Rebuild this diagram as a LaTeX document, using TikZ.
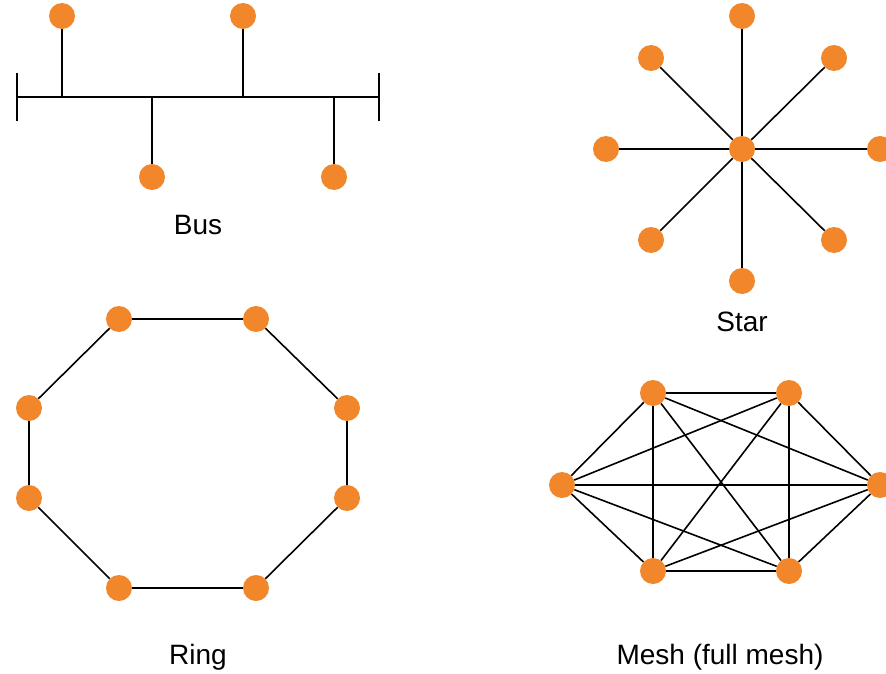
\documentclass[tikz,border=0pt]{standalone}
\usepackage{fontspec}
\setmainfont{Liberation Sans}
\definecolor{hostorange}{HTML}{F2862A}
\begin{document}
\begin{tikzpicture}[x=1pt,y=-1pt,
  host/.style={circle,fill=hostorange,draw=none,minimum size=26pt,inner sep=0pt},
  link/.style={line width=1.6pt,black},
  caption/.style={font=\fontsize{28}{33}\selectfont,inner sep=0pt}]
\useasboundingbox (0,0) rectangle (886,674);

% ---- Bus ----
\coordinate (capLt) at (17,73);
\coordinate (capLb) at (17,121);
\coordinate (capRt) at (379,73);
\coordinate (capRb) at (379,121);
\coordinate (busL) at (17,97);
\coordinate (busR) at (379,97);
\coordinate (j1) at (62,97);
\coordinate (j2) at (152,97);
\coordinate (j3) at (243,97);
\coordinate (j4) at (334,97);
\node[host] (b1) at (62,16) {};
\node[host] (b2) at (152,177) {};
\node[host] (b3) at (243,16) {};
\node[host] (b4) at (334,177) {};
\draw[link] (busL) -- (busR);
\draw[link] (capLt) -- (capLb);
\draw[link] (capRt) -- (capRb);
\draw[link] (j1) -- (b1);
\draw[link] (j2) -- (b2);
\draw[link] (j3) -- (b3);
\draw[link] (j4) -- (b4);
\node[caption] (buslabel) at (198,225) {Bus};

% ---- Star ----
\node[host] (hub) at (742,149) {};
\foreach \name/\px/\py in {s1/742/16, s2/834/58, s3/880/149, s4/834/240,
                           s5/742/281, s6/651/240, s7/606/149, s8/651/58} {
  \node[host] (\name) at (\px,\py) {};
  \draw[link] (hub) -- (\name);
}
\node[caption] (starlabel) at (742,322) {Star};

% ---- Ring ----
\node[host] (r1) at (119,319) {};
\node[host] (r2) at (256,319) {};
\node[host] (r3) at (347,408) {};
\node[host] (r4) at (347,498) {};
\node[host] (r5) at (256,588) {};
\node[host] (r6) at (119,588) {};
\node[host] (r7) at (29,498) {};
\node[host] (r8) at (29,408) {};
\draw[link] (r1) -- (r2) -- (r3) -- (r4) -- (r5) -- (r6) -- (r7) -- (r8) -- (r1);
\node[caption] (ringlabel) at (198,657) {Ring};

% ---- Full mesh ----
\node[host] (m1) at (653,393) {};
\node[host] (m2) at (789,393) {};
\node[host] (m3) at (880,485) {};
\node[host] (m4) at (789,571) {};
\node[host] (m5) at (653,571) {};
\node[host] (m6) at (562,485) {};
\foreach \a/\b in {m1/m2,m1/m3,m1/m4,m1/m5,m1/m6,
                   m2/m3,m2/m4,m2/m5,m2/m6,
                   m3/m4,m3/m5,m3/m6,
                   m4/m5,m4/m6,
                   m5/m6}
  \draw[link] (\a) -- (\b);
\node[caption] (meshlabel) at (720,657) {Mesh (full mesh)};
\end{tikzpicture}
\end{document}
